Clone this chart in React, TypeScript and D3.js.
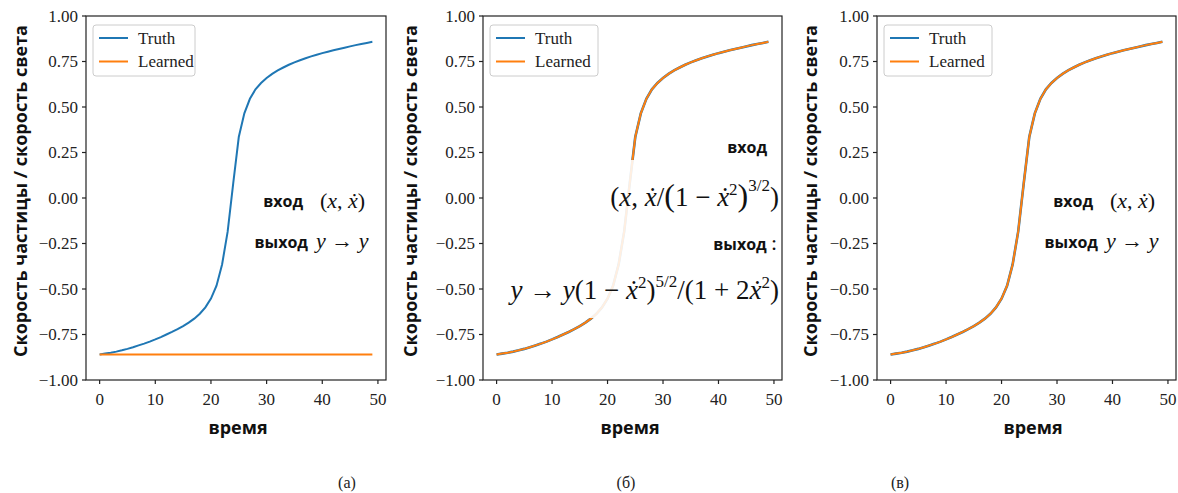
import React from "react";
import * as d3 from "d3";

const times: number[] = d3.range(0, 50);

const truthValues: number[] = [
  -0.860, -0.855, -0.850, -0.844, -0.837, -0.829, -0.820, -0.810, -0.800, -0.789,
  -0.777, -0.764, -0.750, -0.736, -0.721, -0.704, -0.685, -0.663, -0.636, -0.601,
  -0.553, -0.482, -0.365, -0.185, 0.080, 0.335, 0.465, 0.545, 0.597, 0.632,
  0.659, 0.682, 0.701, 0.717, 0.732, 0.745, 0.757, 0.768, 0.778, 0.787,
  0.796, 0.804, 0.812, 0.819, 0.826, 0.833, 0.840, 0.846, 0.852, 0.858,
];

const learnedA: number[] = times.map(() => -0.86);
const learnedB: number[] = truthValues.slice();
const learnedC: number[] = truthValues.slice();

const xTicks = [0, 10, 20, 30, 40, 50];
const yTicks = [-1, -0.75, -0.5, -0.25, 0, 0.25, 0.5, 0.75, 1];
const legendLabels = ["Truth", "Learned"];
const captions = ["(а)", "(б)", "(в)"];
const yLabel = "Скорость частицы / скорость света";
const xLabel = "время";

const BLUE = "#1f77b4";
const ORANGE = "#ff7f0e";
const TOP = 16;
const BOTTOM = 380;
const SERIF = "'Liberation Serif', 'Times New Roman', serif";
const SANS = "'Open Sans', 'DejaVu Sans', sans-serif";

const fmt = (v: number) => d3.format(".2f")(v).replace("-", "\u2212");

function MathSimple({ x, y, kind }: { x: number; y: number; kind: "in" | "out" }) {
  if (kind === "in") {
    return (
      <text x={x} y={y} fontFamily={SERIF} fontSize={22} fill="#111">
        (<tspan fontStyle="italic">x</tspan>, <tspan fontStyle="italic">ẋ</tspan>)
      </text>
    );
  }
  return (
    <text x={x} y={y} fontFamily={SERIF} fontSize={22} fill="#111">
      <tspan fontStyle="italic">y</tspan> → <tspan fontStyle="italic">y</tspan>
    </text>
  );
}

function Panel({
  left, right, learned, ylx, xlx, caption, capX, idx,
}: {
  left: number; right: number; learned: number[]; ylx: number; xlx: number;
  caption: string; capX: number; idx: number;
}) {
  const x = d3.scaleLinear().domain([-2.45, 51.45]).range([left, right]);
  const y = d3.scaleLinear().domain([-1, 1]).range([BOTTOM, TOP]);
  const line = d3.line<number>().x((_, i) => x(times[i])).y((d) => y(d));
  const truthPath = line(truthValues) || "";
  const learnedPath = line(learned) || "";
  const midY = (TOP + BOTTOM) / 2;
  const shift = idx === 2 ? 790 : 0;

  return (
    <g>
      <path d={truthPath} fill="none" stroke={BLUE} strokeWidth={idx === 0 ? 2 : 2.6} />
      <path d={learnedPath} fill="none" stroke={ORANGE} strokeWidth={2} />

      {idx === 1 && (
        <rect x={495} y={160} width={284} height={158} fill="#fff" opacity={0.88} />
      )}

      <rect x={left} y={TOP} width={right - left} height={BOTTOM - TOP} fill="none" stroke="#222" strokeWidth={1.2} />

      {xTicks.map((t) => (
        <g key={"x" + t}>
          <line x1={x(t)} x2={x(t)} y1={BOTTOM} y2={BOTTOM + 4} stroke="#222" strokeWidth={1.2} />
          <text x={x(t)} y={BOTTOM + 25} textAnchor="middle" fontFamily={SERIF} fontSize={17} fill="#222">
            {t}
          </text>
        </g>
      ))}
      {yTicks.map((t) => (
        <g key={"y" + t}>
          <line x1={left - 4} x2={left} y1={y(t)} y2={y(t)} stroke="#222" strokeWidth={1.2} />
          <text x={left - 8} y={y(t)} dy="0.35em" textAnchor="end" fontFamily={SERIF} fontSize={17} fill="#222">
            {fmt(t)}
          </text>
        </g>
      ))}

      <text
        transform={`translate(${ylx},${midY - 7}) rotate(-90)`}
        textAnchor="middle"
        dy="0.35em"
        fontFamily={SANS}
        fontWeight={700}
        fontSize={17}
        textLength={332}
        lengthAdjust="spacingAndGlyphs"
        fill="#111"
      >
        {yLabel}
      </text>
      <text x={xlx} y={434} textAnchor="middle" fontFamily={SANS} fontWeight={700} fontSize={18} fill="#111">
        {xLabel}
      </text>

      <rect x={left + 7} y={25} width={idx === 0 ? 102 : 108} height={51} rx={3} fill="#fff" fillOpacity={0.8} stroke="#ccc" strokeWidth={1} />
      {legendLabels.map((lab, i) => (
        <g key={lab}>
          <line x1={left + 13} x2={left + 42} y1={38 + i * 23.5} y2={38 + i * 23.5} stroke={i === 0 ? BLUE : ORANGE} strokeWidth={2} />
          <text x={left + 52} y={38 + i * 23.5} dy="0.35em" fontFamily={SERIF} fontSize={17} fill="#222">
            {lab}
          </text>
        </g>
      ))}

      {idx !== 1 && (
        <g>
          <text x={303 + shift} y={207} textAnchor="end" fontFamily={SANS} fontWeight={700} fontSize={16} fill="#111">вход</text>
          <MathSimple x={320 + shift} y={208} kind="in" />
          <text x={308 + shift} y={248} textAnchor="end" fontFamily={SANS} fontWeight={700} fontSize={16} fill="#111">выход</text>
          <MathSimple x={316 + shift} y={248} kind="out" />
        </g>
      )}
      {idx === 1 && (
        <g>
          <text x={767} y={153} textAnchor="end" fontFamily={SANS} fontWeight={700} fontSize={16} fill="#111">вход</text>
          <text x={779} y={206} textAnchor="end" fontFamily={SERIF} fontSize={27} fill="#111">
            (<tspan fontStyle="italic">x</tspan>, <tspan fontStyle="italic">ẋ</tspan>/<tspan fontSize={32}>(</tspan>1 − <tspan fontStyle="italic">ẋ</tspan>
            <tspan fontSize={17} dy={-11}>2</tspan>
            <tspan dy={11} fontSize={32}>)</tspan>
            <tspan fontSize={17} dy={-15}>3/2</tspan>
            <tspan dy={15}>)</tspan>
          </text>
          <text x={777} y={250} textAnchor="end" fontFamily={SANS} fontWeight={700} fontSize={16} fill="#111">
            выход <tspan fontFamily={SERIF} fontWeight={400} fontSize={22}>:</tspan>
          </text>
          <text x={779} y={299} textAnchor="end" fontFamily={SERIF} fontSize={27} fill="#111">
            <tspan fontStyle="italic">y</tspan> → <tspan fontStyle="italic">y</tspan>(1 − <tspan fontStyle="italic">ẋ</tspan>
            <tspan fontSize={17} dy={-11}>2</tspan>
            <tspan dy={11}>)</tspan>
            <tspan fontSize={17} dy={-12}>5/2</tspan>
            <tspan dy={12}>/(1 + 2</tspan>
            <tspan fontStyle="italic">ẋ</tspan>
            <tspan fontSize={17} dy={-11}>2</tspan>
            <tspan dy={11}>)</tspan>
          </text>
        </g>
      )}

      <text x={capX} y={488} textAnchor="middle" fontFamily={SERIF} fontSize={16} fill="#222">
        {caption}
      </text>
    </g>
  );
}

export default function App() {
  const panels = [
    { left: 86, right: 386, learned: learnedA, ylx: 21, xlx: 238, capX: 347 },
    { left: 483, right: 782, learned: learnedB, ylx: 411, xlx: 630, capX: 626 },
    { left: 877, right: 1176, learned: learnedC, ylx: 811, xlx: 1033, capX: 900 },
  ];
  return (
    <div style={{ position: "absolute", left: 0, top: 0 }}>
      <svg width={1178} height={493} style={{ display: "block", background: "#fff" }}>
        {panels.map((p, i) => (
          <Panel key={i} idx={i} caption={captions[i]} {...p} />
        ))}
      </svg>
    </div>
  );
}
